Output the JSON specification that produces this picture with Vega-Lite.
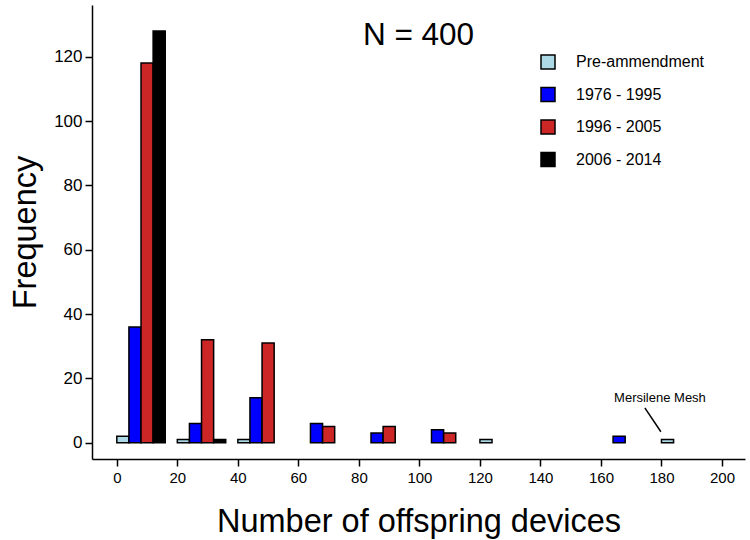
{
  "$schema": "https://vega.github.io/schema/vega-lite/v6.json",
  "width": 653,
  "height": 454,
  "autosize": "none",
  "padding": {"left": 92, "top": 5, "right": 5, "bottom": 81},
  "config": {
    "view": {"stroke": null},
    "font": "Liberation Sans",
    "axis": {
      "grid": false,
      "domainColor": "black",
      "domainWidth": 1.5,
      "tickColor": "black",
      "tickWidth": 1.5,
      "tickSize": 7,
      "labelColor": "black",
      "titleColor": "black",
      "labelFont": "Liberation Sans",
      "titleFont": "Liberation Sans",
      "titleFontWeight": "normal"
    }
  },
  "datasets": {
    "counts": [
      {"bin": 0, "group": "Pre-ammendment", "count": 2},
      {"bin": 0, "group": "1976 - 1995", "count": 36},
      {"bin": 0, "group": "1996 - 2005", "count": 118},
      {"bin": 0, "group": "2006 - 2014", "count": 128},
      {"bin": 20, "group": "Pre-ammendment", "count": 1},
      {"bin": 20, "group": "1976 - 1995", "count": 6},
      {"bin": 20, "group": "1996 - 2005", "count": 32},
      {"bin": 20, "group": "2006 - 2014", "count": 1},
      {"bin": 40, "group": "Pre-ammendment", "count": 1},
      {"bin": 40, "group": "1976 - 1995", "count": 14},
      {"bin": 40, "group": "1996 - 2005", "count": 31},
      {"bin": 60, "group": "1976 - 1995", "count": 6},
      {"bin": 60, "group": "1996 - 2005", "count": 5},
      {"bin": 80, "group": "1976 - 1995", "count": 3},
      {"bin": 80, "group": "1996 - 2005", "count": 5},
      {"bin": 100, "group": "1976 - 1995", "count": 4},
      {"bin": 100, "group": "1996 - 2005", "count": 3},
      {"bin": 120, "group": "Pre-ammendment", "count": 1},
      {"bin": 160, "group": "1976 - 1995", "count": 2},
      {"bin": 180, "group": "Pre-ammendment", "count": 1}
    ],
    "labels": [
      {"text": "N = 400", "x": 99.7, "y": 126.3, "kind": "n"},
      {"text": "Mersilene Mesh", "x": 179.5, "y": 13.9, "kind": "note"}
    ],
    "pointer": [
      {"x": 174.5, "y": 10.8, "x2": 179.8, "y2": 3.4}
    ]
  },
  "layer": [
    {
      "data": {"name": "counts"},
      "transform": [
        {"calculate": "indexof(['Pre-ammendment', '1976 - 1995', '1996 - 2005', '2006 - 2014'], datum.group)", "as": "slot"},
        {"calculate": "datum.bin + datum.slot * 4", "as": "left"},
        {"calculate": "datum.left + 4", "as": "right"}
      ],
      "mark": {"type": "bar", "stroke": "black", "strokeWidth": 1.5},
      "encoding": {
        "x": {
          "field": "left",
          "type": "quantitative",
          "scale": {"domain": [-8.2, 207.6], "nice": false, "zero": false, "padding": 0},
          "axis": {
            "values": [0, 20, 40, 60, 80, 100, 120, 140, 160, 180, 200],
            "title": "Number of offspring devices",
            "titleFontSize": 32.5,
            "labelFontSize": 15,
            "labelPadding": 4,
            "titlePadding": 20
          }
        },
        "x2": {"field": "right"},
        "y": {
          "field": "count",
          "type": "quantitative",
          "scale": {"domain": [-5.07, 136.06], "nice": false, "zero": false, "padding": 0},
          "axis": {
            "values": [0, 20, 40, 60, 80, 100, 120],
            "title": "Frequency",
            "titleFontSize": 32.5,
            "labelFontSize": 17,
            "labelPadding": 3,
            "titlePadding": 11
          }
        },
        "y2": {"datum": 0},
        "color": {
          "field": "group",
          "type": "nominal",
          "sort": ["Pre-ammendment", "1976 - 1995", "1996 - 2005", "2006 - 2014"],
          "scale": {
            "domain": ["Pre-ammendment", "1976 - 1995", "1996 - 2005", "2006 - 2014"],
            "range": ["#ADD8E6", "#0000FF", "#CD2626", "#000000"]
          },
          "legend": {
            "title": null,
            "orient": "none",
            "legendX": 448,
            "legendY": 49,
            "symbolType": "square",
            "symbolSize": 196,
            "symbolStrokeColor": "black",
            "symbolStrokeWidth": 1.5,
            "symbolOpacity": 1,
            "labelFontSize": 16,
            "labelColor": "black",
            "labelFont": "Liberation Sans",
            "labelOffset": 20,
            "rowPadding": 12.5
          }
        }
      }
    },
    {
      "data": {"name": "pointer"},
      "mark": {"type": "rule", "color": "black", "strokeWidth": 1.5},
      "encoding": {
        "x": {"field": "x", "type": "quantitative"},
        "y": {"field": "y", "type": "quantitative"},
        "x2": {"field": "x2"},
        "y2": {"field": "y2"}
      }
    },
    {
      "data": {"name": "labels"},
      "transform": [{"filter": "datum.kind == 'n'"}],
      "mark": {"type": "text", "fontSize": 31.5, "color": "black", "baseline": "middle", "align": "center"},
      "encoding": {
        "x": {"field": "x", "type": "quantitative"},
        "y": {"field": "y", "type": "quantitative"},
        "text": {"field": "text"}
      }
    },
    {
      "data": {"name": "labels"},
      "transform": [{"filter": "datum.kind == 'note'"}],
      "mark": {"type": "text", "fontSize": 13, "color": "black", "baseline": "middle", "align": "center"},
      "encoding": {
        "x": {"field": "x", "type": "quantitative"},
        "y": {"field": "y", "type": "quantitative"},
        "text": {"field": "text"}
      }
    }
  ]
}
